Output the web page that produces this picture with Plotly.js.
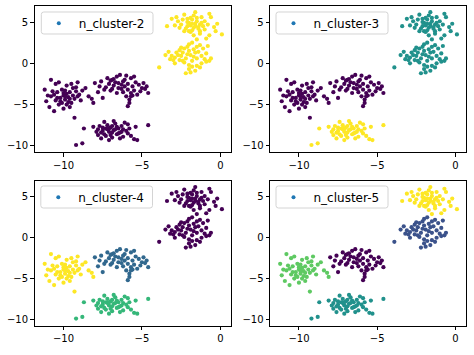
<!DOCTYPE html>
<html><head><meta charset="utf-8">
<script src="https://cdn.plot.ly/plotly-3.0.1.min.js"></script>
<style>html,body{margin:0;padding:0;background:#fff}#chart{width:474px;height:355px}</style>
</head><body><div id="chart"></div>
<script>
// Blob A (upper right)
const xA=[-3.1,-2.3,-1.6,-0.7,-0.6,-2.1,-1.8,-1.5,-1.3,-2.1,-2.5,-2.9,-1.7,-1.0,-0.3,0.1,-0.7,-1.3,-1.9,-2.3,-3.4,-2.7,-2.0,-1.6,-1.4,-1.0,-1.2,-1.9,-2.4,-1.5,-2.0,-1.7,-0.4,-0.2,-1.8,-1.6,-1.9,-1.4,-2.2,-1.2,-0.9,-1.5,-2.6,-1.1,-0.8,-2.8,-1.7,-1.3,-2.1,-1.8];
const yA=[5.4,5.9,6.2,6.0,5.6,5.4,5.3,5.1,4.7,4.5,4.7,4.6,4.3,4.1,3.9,3.5,3.4,3.6,3.8,3.9,4.5,5.1,4.9,4.8,4.2,5.1,5.6,5.5,5.3,5.5,3.9,3.4,4.4,4.8,4.0,4.5,4.6,4.4,4.2,4.9,3.0,2.9,4.3,4.5,4.7,5.6,5.8,3.9,5.0,4.8];
// Blob B (right, middle)
const xB=[-3.9,-3.3,-3.1,-3.0,-2.8,-2.6,-2.5,-2.4,-2.3,-2.1,-2.0,-1.8,-1.7,-1.6,-1.9,-2.2,-2.6,-2.9,-2.3,-2.0,-1.8,-1.5,-1.2,-0.9,-0.7,-0.9,-1.2,-1.5,-2.0,-1.9,-2.2,-1.6,-1.1,-0.8,-1.3,-3.5,-3.2,-2.7,-2.0,-1.4,-1.0,-0.6,-2.4,-1.7,-2.5,-2.9,-1.5,-2.1,-1.8,-1.3];
const yB=[-0.5,1.4,0.9,0.4,1.3,1.6,0.9,1.3,1.8,2.0,2.3,2.5,1.7,1.3,1.0,0.6,0.4,0.0,0.1,-0.2,0.3,0.6,0.9,1.2,0.3,0.2,0.0,-0.3,-0.7,-1.1,-1.2,-0.9,1.8,2.1,2.2,1.0,0.5,1.0,1.5,1.4,0.5,0.6,0.3,0.8,1.9,0.7,2.0,1.1,-0.4,-0.5];
// Blob C (centre)
const xC=[-8.0,-7.8,-7.6,-7.5,-7.3,-7.2,-7.1,-7.0,-6.9,-6.8,-6.7,-6.6,-6.5,-6.4,-6.3,-6.2,-6.1,-6.0,-5.9,-5.8,-5.7,-5.6,-5.5,-5.7,-5.9,-5.8,-5.4,-5.2,-5.0,-4.9,-4.8,-4.6,-4.7,-5.3,-6.0,-6.6,-7.0,-6.8,-5.6,-7.4,-6.3,-5.9,-6.5,-6.2,-5.7,-7.7,-5.5,-5.1,-6.9,-6.1];
const yC=[-2.4,-3.5,-2.2,-4.2,-2.9,-1.8,-2.5,-3.3,-2.0,-2.7,-2.3,-1.6,-3.0,-1.4,-2.6,-3.5,-2.0,-4.0,-3.2,-4.4,-3.6,-2.8,-3.3,-1.8,-5.2,-4.8,-2.3,-2.6,-3.0,-2.4,-3.1,-3.6,-2.8,-3.8,-1.5,-3.6,-2.1,-1.9,-3.9,-3.2,-3.1,-2.5,-2.4,-2.2,-4.0,-2.8,-1.6,-3.4,-3.1,-2.8];
// Blob D (left)
const xD=[-11.2,-11.1,-10.9,-10.8,-10.7,-10.6,-10.5,-10.4,-10.3,-10.2,-10.1,-10.0,-9.9,-9.8,-9.7,-9.6,-9.5,-9.4,-9.3,-9.2,-9.1,-9.0,-8.9,-8.8,-8.6,-9.3,-10.6,-9.6,-10.0,-9.8,-10.4,-9.9,-9.4,-9.7,-10.1,-10.8,-11.0,-10.3,-9.5,-8.4,-9.1,-9.6,-10.2,-9.8,-10.5,-8.2,-8.1,-9.2,-10.0,-9.9];
const yD=[-3.2,-4.6,-5.3,-2.0,-3.4,-3.8,-2.5,-4.2,-5.0,-4.6,-3.2,-3.9,-4.4,-3.7,-4.1,-3.5,-4.8,-3.0,-4.3,-2.9,-2.3,-3.8,-4.5,-3.3,-3.0,-6.6,-5.8,-5.3,-5.5,-2.7,-3.5,-3.3,-3.9,-4.7,-4.8,-4.0,-3.9,-2.3,-2.5,-4.0,-4.0,-4.3,-4.2,-5.0,-4.5,-4.3,-4.8,-3.4,-3.6,-4.0];
// Blob E (bottom)
const xE=[-9.2,-8.8,-8.7,-8.1,-7.8,-7.7,-7.5,-7.4,-7.3,-7.2,-7.1,-7.0,-6.9,-6.8,-6.7,-6.6,-6.5,-6.4,-6.3,-6.2,-6.1,-6.0,-5.9,-5.7,-5.5,-5.3,-5.4,-4.6,-7.6,-7.9,-7.4,-7.1,-6.9,-6.7,-6.6,-7.0,-7.3,-6.4,-6.2,-5.8,-7.5,-7.8,-6.8,-7.2,-6.5,-5.9,-7.6,-6.3,-6.9,-7.1];
const yE=[-9.9,-9.7,-7.9,-7.7,-8.7,-7.6,-8.2,-7.1,-8.8,-7.5,-8.3,-7.8,-9.0,-8.1,-7.3,-8.6,-7.9,-8.4,-7.6,-8.9,-7.2,-8.2,-7.4,-8.8,-9.2,-9.3,-7.7,-7.5,-9.1,-8.3,-8.6,-9.3,-8.4,-8.0,-7.7,-8.7,-7.9,-9.1,-8.0,-7.9,-7.8,-8.0,-7.0,-8.0,-8.5,-8.5,-8.4,-8.3,-7.6,-7.9];

const blobX=[xA,xB,xC,xD,xE];
const blobY=[yA,yB,yC,yD,yE];
const clusterCounts=[2,3,4,5];
// cluster label of blobs A..E for each k
const labels2=[1,1,0,0,0];
const labels3=[1,1,0,0,2];
const labels4=[0,0,1,3,2];
const labels5=[4,1,0,3,2];
const legendNames=['n_cluster-2','n_cluster-3','n_cluster-4','n_cluster-5'];
const xTicks=[-10,-5,0];
const yTicks=[-10,-5,0,5];

const palettes={
  2:['#440154','#fde725'],
  3:['#440154','#21918c','#fde725'],
  4:['#440154','#31688e','#35b779','#fde725'],
  5:['#440154','#3b528b','#21918c','#5ec962','#fde725']
};
const allLabels=[labels2,labels3,labels4,labels5];

const W=474,H=355;
const xDom=[[34.5/W,231/W],[270/W,466/W],[34.5/W,231/W],[270/W,466/W]];
const yDom=[[(H-152)/H,(H-6)/H],[(H-152)/H,(H-6)/H],[(H-325.5)/H,(H-181)/H],[(H-325.5)/H,(H-181)/H]];
// legend frame boxes in pixels [left, top, right, bottom]
const legBox=[[41.3,12,153,34],[276,12,388,34],[40.8,186,152.5,208],[276,186,388,208]];

const traces=[];
const shapes=[];
const layout={width:W,height:H,margin:{l:0,r:0,t:0,b:0},paper_bgcolor:'#fff',plot_bgcolor:'#fff',
  font:{family:'DejaVu Sans',size:10,color:'#000'},showlegend:true};
const tickFont={family:'DejaVu Sans',size:10,color:'#000'};

function roundRectPath(l,t,r,b,rad){
  const X=v=>(v/W).toFixed(5), Y=v=>((H-v)/H).toFixed(5);
  return `M${X(l+rad)},${Y(t)} L${X(r-rad)},${Y(t)} Q${X(r)},${Y(t)} ${X(r)},${Y(t+rad)} `+
    `L${X(r)},${Y(b-rad)} Q${X(r)},${Y(b)} ${X(r-rad)},${Y(b)} L${X(l+rad)},${Y(b)} `+
    `Q${X(l)},${Y(b)} ${X(l)},${Y(b-rad)} L${X(l)},${Y(t+rad)} Q${X(l)},${Y(t)} ${X(l+rad)},${Y(t)} Z`;
}

clusterCounts.forEach((k,i)=>{
  const sfx=i===0?'':String(i+1);
  const xs=[],ys=[],cs=[];
  blobX.forEach((bx,b)=>{
    bx.forEach((v,j)=>{xs.push(v);ys.push(blobY[b][j]);cs.push(palettes[k][allLabels[i][b]]);});
  });
  traces.push({type:'scatter',mode:'markers',x:xs,y:ys,xaxis:'x'+sfx,yaxis:'y'+sfx,
    marker:{color:cs,size:4.2,line:{width:0}},showlegend:false,hoverinfo:'skip'});
  const legKey='legend'+sfx;
  traces.push({type:'scatter',mode:'markers',x:[null],y:[null],xaxis:'x'+sfx,yaxis:'y'+sfx,
    name:legendNames[i],legend:legKey,marker:{color:'#1f77b4',size:4,line:{width:0}},showlegend:true});
  const axCommon={showline:true,mirror:true,linecolor:'#000',linewidth:1,ticks:'outside',ticklen:3.5,
    tickwidth:1,tickcolor:'#000',showgrid:false,zeroline:false,tickfont:tickFont};
  layout['xaxis'+sfx]=Object.assign({},axCommon,{domain:xDom[i],range:[-11.85,0.68],tickvals:xTicks,anchor:'y'+sfx});
  layout['yaxis'+sfx]=Object.assign({},axCommon,{domain:yDom[i],range:[-10.75,6.95],tickvals:yTicks,anchor:'x'+sfx});
  const bx=legBox[i];
  shapes.push({type:'path',xref:'paper',yref:'paper',layer:'above',path:roundRectPath(bx[0],bx[1],bx[2],bx[3],2.5),
    line:{color:'#d4d4d4',width:1},fillcolor:'rgba(255,255,255,0.8)'});
  layout[legKey]={x:(bx[0]-2.5)/W,y:(H-(bx[1]-3.3))/H,xanchor:'left',yanchor:'top',
    bgcolor:'rgba(0,0,0,0)',borderwidth:0,
    font:{family:'DejaVu Sans',size:12,color:'#000'},itemwidth:30,tracegroupgap:0};
});
layout.shapes=shapes;

Plotly.newPlot('chart',traces,layout,{staticPlot:true,displayModeBar:false});
</script></body></html>
